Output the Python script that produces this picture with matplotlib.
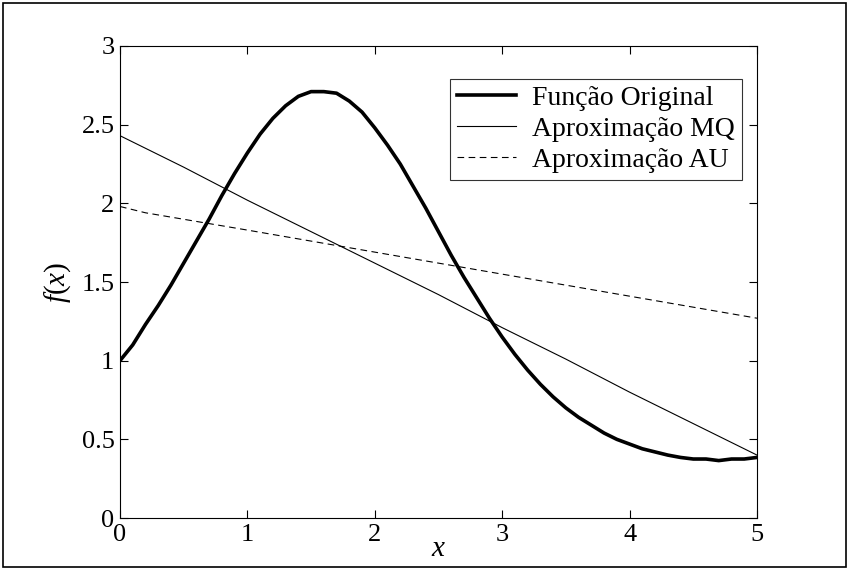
import matplotlib
matplotlib.use("Agg")
import matplotlib.pyplot as plt
from matplotlib.patches import Rectangle

# dados
x_orig = [0.0, 0.1, 0.2, 0.3, 0.4, 0.5, 0.6, 0.7, 0.8, 0.9,
          1.0, 1.1, 1.2, 1.3, 1.4, 1.5, 1.6, 1.7, 1.8, 1.9,
          2.0, 2.1, 2.2, 2.3, 2.4, 2.5, 2.6, 2.7, 2.8, 2.9,
          3.0, 3.1, 3.2, 3.3, 3.4, 3.5, 3.6, 3.7, 3.8, 3.9,
          4.0, 4.1, 4.2, 4.3, 4.4, 4.5, 4.6, 4.7, 4.8, 4.9, 5.0]
y_orig = [1.00, 1.10, 1.23, 1.35, 1.48, 1.62, 1.76, 1.90, 2.05, 2.19,
          2.32, 2.44, 2.54, 2.62, 2.68, 2.71, 2.71, 2.70, 2.65, 2.58,
          2.48, 2.37, 2.25, 2.11, 1.97, 1.82, 1.67, 1.53, 1.40, 1.27,
          1.15, 1.04, 0.94, 0.85, 0.77, 0.70, 0.64, 0.59, 0.54, 0.50,
          0.47, 0.44, 0.42, 0.40, 0.385, 0.375, 0.375, 0.365, 0.375, 0.375, 0.385]

x_mq = [0.0, 0.5, 1.0, 1.5, 2.0, 2.5, 3.0, 3.5, 4.0, 4.5, 5.0]
y_mq = [2.43, 2.23, 2.02, 1.82, 1.62, 1.42, 1.21, 1.01, 0.80, 0.60, 0.40]

x_au = [0.0, 0.2, 1.0, 2.0, 3.0, 4.0, 5.0]
y_au = [1.98, 1.94, 1.83, 1.69, 1.55, 1.41, 1.27]

plt.rcParams["font.family"] = ["Liberation Serif", "DejaVu Serif"]
plt.rcParams["mathtext.fontset"] = "custom"
plt.rcParams["mathtext.it"] = "Liberation Serif:italic"
plt.rcParams["mathtext.rm"] = "Liberation Serif"

fig = plt.figure(figsize=(8.49, 5.70), dpi=100)
ax = fig.add_axes([0.1413, 0.0912, 0.7503, 0.8281])

ax.plot(x_orig, y_orig, color="black", lw=2.6, label="Função Original")
ax.plot(x_mq, y_mq, color="black", lw=0.8, label="Aproximação MQ")
ax.plot(x_au, y_au, color="black", lw=0.8, ls=(0, (6, 4)), label="Aproximação AU")

ax.set_xlim(0, 5); ax.set_ylim(0, 3)
ax.set_xticks([0, 1, 2, 3, 4, 5])
ax.set_yticks([0, 0.5, 1, 1.5, 2, 2.5, 3])
ax.set_yticklabels(["0", "0.5", "1", "1.5", "2", "2.5", "3"])
ax.tick_params(direction="in", top=True, right=True, labelsize=19,
               length=6, width=0.8, pad=4)
for s in ax.spines.values():
    s.set_linewidth(0.8)

ax.set_xlabel("$x$", fontsize=21, labelpad=-7)
ax.set_ylabel("$f(x)$", fontsize=21, labelpad=6)

leg = ax.legend(loc="upper right", bbox_to_anchor=(0.9765, 0.931), fontsize=20,
                frameon=True, fancybox=False, edgecolor="black",
                handlelength=2.1, borderpad=0.25, labelspacing=0.2,
                handletextpad=0.6, borderaxespad=0)
leg.get_frame().set_linewidth(0.8)

fig.patches.append(Rectangle((0.004, 0.005), 0.992, 0.99, transform=fig.transFigure,
                             fill=False, edgecolor="black", lw=1.2))

fig.savefig("out.png", dpi=100)
